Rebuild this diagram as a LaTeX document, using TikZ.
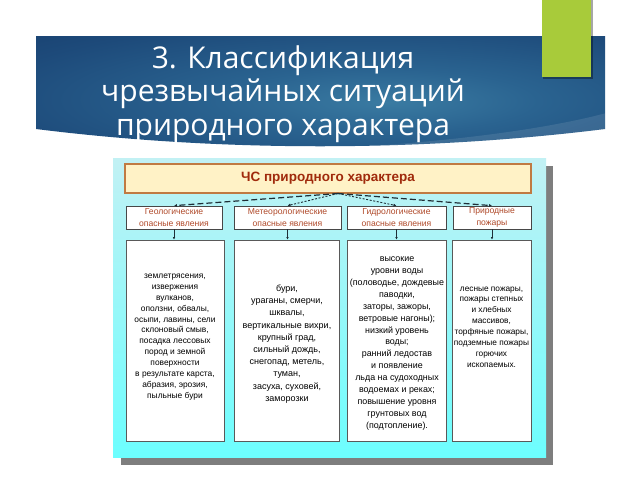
\documentclass[tikz,border=0pt]{standalone}
\usepackage{fontspec}
\setmainfont{Liberation Sans}
\newfontfamily\titlefont{Open Sans}
\usetikzlibrary{arrows.meta}
\definecolor{bin}{HTML}{3A7BA2}
\definecolor{bmid}{HTML}{2A6390}
\definecolor{bedge}{HTML}{1D4A7A}
\definecolor{bout}{HTML}{163B6A}
\definecolor{barGreen}{HTML}{A8CB3A}
\definecolor{cyantop}{HTML}{C2F1F4}
\definecolor{cyanmid}{HTML}{7CFAFB}
\definecolor{cyanbot}{HTML}{6CFEFE}
\definecolor{shadowgray}{HTML}{7E7E7E}
\definecolor{topfill}{HTML}{FFF2C6}
\definecolor{topborder}{HTML}{C07A42}
\definecolor{topred}{HTML}{A02A0C}
\definecolor{hdrred}{HTML}{B04A2A}
\definecolor{linecol}{HTML}{1E2E36}
\pgfdeclareradialshading{bannershade}{\pgfpoint{6bp}{-4bp}}{color(0bp)=(bin); color(14bp)=(bmid); color(34bp)=(bedge); color(50bp)=(bout); color(100bp)=(bout)}
\begin{document}
\begin{tikzpicture}[x=1pt,y=-1pt,
  titletext/.style={align=center, text=white, font=\titlefont\fontsize{30}{33.5}\selectfont, inner sep=0pt},
  topbox/.style={draw=topborder, line width=1.1pt, fill=topfill, minimum width=406pt, minimum height=29pt, inner sep=0pt, text=topred, font=\bfseries\fontsize{13.5}{16}\selectfont},
  hbox/.style={draw=black!72, line width=0.7pt, fill=white, minimum height=23pt, inner sep=0pt, align=center, text=hdrred, font=\fontsize{8.6}{11.2}\selectfont},
  cbox/.style={draw=black!65, line width=0.7pt, fill=white, minimum height=201pt, inner sep=0pt},
  ctext/.style={align=center, inner sep=0pt, text=black},
  outerdash/.style={draw=linecol, line width=1.2pt, dash pattern=on 6pt off 3pt, -{Latex[length=3pt,width=3pt]}},
  innerdot/.style={draw=linecol, line width=0.9pt, dash pattern=on 2pt off 1.6pt, -{Latex[length=3pt,width=3pt]}},
  vconn/.style={draw=linecol, line width=0.8pt, -{Latex[length=2.6pt,width=2.6pt]}}
]
\useasboundingbox (0,0) rectangle (640,480);
\fill[white] (0,0) rectangle (640,480);

% banner
\begin{scope}
\clip (36,36) -- (605,36) -- (605,129) .. controls (420,152) and (220,152) .. (36,129) -- cycle;
\shade[shading=bannershade] (36,36) rectangle (605,150);
\fill[white,opacity=0.1] (300,160) -- (300,150) .. controls (460,143) and (560,126) .. (610,112) -- (610,160) -- cycle;
\end{scope}

% green bar
\fill[black,opacity=0.35] (543,0) rectangle (592.5,78.5);
\fill[barGreen] (542,0) rectangle (591,77);

% title
\node[titletext] (title) at (283,94) {3. Классификация\\чрезвычайных ситуаций\\природного характера};

% panel
\fill[shadowgray] (121,166) rectangle (553,465);
\shade[top color=cyantop, middle color=cyanmid, bottom color=cyanbot] (113,158) rectangle (546,457);

% top box
\node[topbox] (top) at (328,178.5) {ЧС природного характера};

% header boxes
\node[hbox, minimum width=96pt] (h1) at (174,217.5) {Геологические\\опасные явления};
\node[hbox, minimum width=107pt] (h2) at (287.5,217.5) {Метеорологические\\опасные явления};
\node[hbox, minimum width=99pt] (h3) at (396.5,217.5) {Гидрологические\\опасные явления};
\node[hbox, minimum width=78pt] (h4) at (492,217.5) {Природные\\пожары};

% content boxes
\node[cbox, minimum width=98pt] (c1) at (175,340.5) {};
\node[cbox, minimum width=105pt] (c2) at (287,340.5) {};
\node[cbox, minimum width=99pt] (c3) at (397,340.5) {};
\node[cbox, minimum width=79pt] (c4) at (491.5,340.5) {};

\node[ctext, font=\fontsize{8.4}{10.9}\selectfont] (t1) at (175,337) {землетрясения,\\извержения\\вулканов,\\оползни, обвалы,\\осыпи, лавины, сели\\склоновый смыв,\\посадка лессовых\\пород и земной\\поверхности\\в результате карста,\\абразия, эрозия,\\пыльные бури};
\node[ctext, font=\fontsize{9}{12.2}\selectfont] (t2) at (287,344) {бури,\\ураганы, смерчи,\\шквалы,\\вертикальные вихри,\\крупный град,\\сильный дождь,\\снегопад, метель,\\туман,\\засуха, суховей,\\заморозки};
\node[ctext, font=\fontsize{8.9}{11.9}\selectfont] (t3) at (397,343.5) {высокие\\уровни воды\\(половодье, дождевые\\паводки,\\заторы, зажоры,\\ветровые нагоны);\\низкий уровень\\воды;\\ранний ледостав\\и появление\\льда на судоходных\\водоемах и реках;\\повышение уровня\\грунтовых вод\\(подтопление).};
\node[ctext, font=\fontsize{8.3}{10.9}\selectfont] (t4) at (491.5,327) {лесные пожары,\\пожары степных\\и хлебных\\массивов,\\торфяные пожары,\\подземные пожары\\горючих\\ископаемых.};

% connectors
\coordinate (apex) at (338,193.5);
\draw[outerdash] (apex) -- (h1.north);
\draw[innerdot] (apex) -- (h2.north);
\draw[innerdot] (apex) -- (h3.north);
\draw[outerdash] (apex) -- (h4.north);
\draw[vconn] (h1.south) -- (h1.south |- c1.north);
\draw[vconn] (h2.south) -- (h2.south |- c2.north);
\draw[vconn] (h3.south) -- (h3.south |- c3.north);
\draw[vconn] (h4.south) -- (h4.south |- c4.north);
\end{tikzpicture}
\end{document}
